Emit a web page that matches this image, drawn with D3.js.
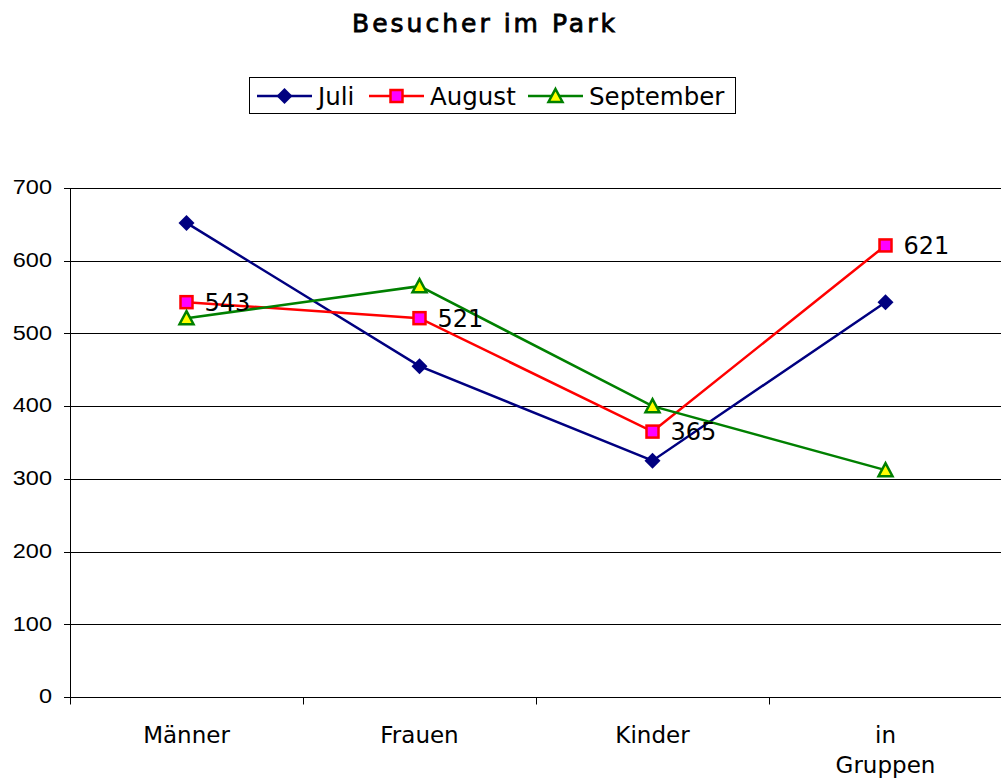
<!DOCTYPE html>
<html>
<head>
<meta charset="utf-8">
<script src="https://cdn.jsdelivr.net/npm/d3@7"></script>
<style>
  body { margin: 0; background: #fff; }
</style>
</head>
<body>
<script>
// chart data
var categories = ["Männer", "Frauen", "Kinder", "in Gruppen"];
var juli = [652, 455, 325, 543];
var august = [543, 521, 365, 621];
var september = [521, 565, 400, 312];
var yTicks = [0, 100, 200, 300, 400, 500, 600, 700];

var width = 1001;
var height = 782;
var plotLeft = 70, plotRight = 1002, plotTop = 188, plotBottom = 697;

var svg = d3.select("body").append("svg")
    .attr("width", width)
    .attr("height", height);

/*****************  Scales **********************/

var x = d3.scaleBand().domain(categories).range([plotLeft, plotRight]);
var y = d3.scaleLinear().domain([0, 700]).range([plotBottom, plotTop]);

/*****************  Title **********************/

svg.append("text")
    .attr("x", 485)
    .attr("y", 32)
    .attr("text-anchor", "middle")
    .style("font-family", "DejaVu Sans")
    .style("font-size", "25px")
    .style("letter-spacing", "3px")
    .style("stroke", "#000")
    .style("stroke-width", 0.8)
    .text("Besucher im Park");

/*****************  Grid + axes **********************/

svg.append("g").selectAll("line")
    .data(yTicks.slice(1))
    .enter()
    .append("line")
    .attr("x1", plotLeft)
    .attr("x2", width)
    .attr("y1", function (d) { return Math.round(y(d)) + 0.5; })
    .attr("y2", function (d) { return Math.round(y(d)) + 0.5; })
    .style("stroke", "#000")
    .style("stroke-width", 1);

// y axis line + ticks
svg.append("line")
    .attr("x1", plotLeft + 0.5).attr("x2", plotLeft + 0.5)
    .attr("y1", plotTop).attr("y2", plotBottom + 6)
    .style("stroke", "#000");
svg.append("g").selectAll("line")
    .data(yTicks)
    .enter()
    .append("line")
    .attr("x1", plotLeft - 6).attr("x2", plotLeft)
    .attr("y1", function (d) { return Math.round(y(d)) + 0.5; })
    .attr("y2", function (d) { return Math.round(y(d)) + 0.5; })
    .style("stroke", "#000");
svg.append("g").selectAll("text")
    .data(yTicks)
    .enter()
    .append("text")
    .attr("text-anchor", "end")
    .attr("dy", "0.3em")
    .attr("transform", function (d) { return "translate(52," + y(d) + ") scale(1.12,1)"; })
    .style("font-family", "Liberation Sans")
    .style("font-size", "21px")
    .text(function (d) { return d; });

var xAxis = svg.append("g")
    .attr("transform", "translate(0," + (Math.round(plotBottom) + 0.5) + ")");
xAxis.append("line")
    .attr("x1", plotLeft).attr("x2", width)
    .style("stroke", "#000");
xAxis.selectAll(".tk")
    .data(categories.concat([null]))
    .enter()
    .append("line")
    .attr("x1", function (d, i) { return Math.round(plotLeft + i * x.bandwidth()) + 0.5; })
    .attr("x2", function (d, i) { return Math.round(plotLeft + i * x.bandwidth()) + 0.5; })
    .attr("y1", 0)
    .attr("y2", 7)
    .style("stroke", "#000");

var catLabels = xAxis.selectAll(".cat")
    .data(categories)
    .enter()
    .append("text")
    .attr("text-anchor", "middle")
    .attr("x", function (d) { return x(d) + x.bandwidth() / 2; })
    .attr("y", 45)
    .style("font-family", "DejaVu Sans")
    .style("font-size", "23px");
catLabels.each(function (d) {
    var words = d.split(" ");
    var t = d3.select(this);
    words.forEach(function (w, i) {
        t.append("tspan")
            .attr("x", x(d) + x.bandwidth() / 2)
            .attr("dy", i == 0 ? 0 : 30)
            .text(w);
    });
});

/*****************  Series **********************/

var series = [
    { name: "Juli", values: juli, color: "#000080", marker: "diamond" },
    { name: "August", values: august, color: "#ff0000", marker: "square" },
    { name: "September", values: september, color: "#008000", marker: "triangle" }
];

function drawMarker(g, type, cx, cy) {
    if (type == "diamond") {
        g.append("path")
            .attr("d", "M" + cx + "," + (cy - 8) + "L" + (cx + 8) + "," + cy + "L" + cx + "," + (cy + 8) + "L" + (cx - 8) + "," + cy + "Z")
            .style("fill", "#000080");
    } else if (type == "square") {
        g.append("rect")
            .attr("x", cx - 6).attr("y", cy - 6)
            .attr("width", 12).attr("height", 12)
            .style("fill", "#ff00ff")
            .style("stroke", "#ff0000")
            .style("stroke-width", 2.5);
    } else {
        g.append("path")
            .attr("d", "M" + cx + "," + (cy - 7) + "L" + (cx + 7) + "," + (cy + 6) + "L" + (cx - 7) + "," + (cy + 6) + "Z")
            .style("fill", "#ffff00")
            .style("stroke", "#008000")
            .style("stroke-width", 2.5);
    }
}

var line = d3.line()
    .x(function (d, i) { return x(categories[i]) + x.bandwidth() / 2; })
    .y(function (d) { return y(d); });

series.forEach(function (s) {
    var g = svg.append("g");
    g.append("path")
        .datum(s.values)
        .attr("d", line)
        .style("fill", "none")
        .style("stroke", s.color)
        .style("stroke-width", 2.5);
    s.values.forEach(function (v, i) {
        drawMarker(g, s.marker, x(categories[i]) + x.bandwidth() / 2, y(v));
    });
});

// data labels for August
svg.append("g").selectAll("text")
    .data(august)
    .enter()
    .append("text")
    .attr("x", function (d, i) { return x(categories[i]) + x.bandwidth() / 2 + 18; })
    .attr("y", function (d) { return y(d); })
    .attr("dy", "0.36em")
    .style("font-family", "DejaVu Sans")
    .style("font-size", "24px")
    .text(function (d) { return d; });

/*****************  Legend **********************/

var legend = svg.append("g");
legend.append("rect")
    .attr("x", 249.5).attr("y", 77.5)
    .attr("width", 486).attr("height", 36)
    .style("fill", "#fff")
    .style("stroke", "#000");

var legendX = [257, 369, 528];
series.forEach(function (s, i) {
    var lx = legendX[i];
    legend.append("line")
        .attr("x1", lx).attr("x2", lx + 55)
        .attr("y1", 96).attr("y2", 96)
        .style("stroke", s.color)
        .style("stroke-width", 2.5);
    drawMarker(legend, s.marker, lx + 27.5, 96);
    legend.append("text")
        .attr("x", lx + 61)
        .attr("y", 96)
        .attr("dy", "0.36em")
        .style("font-family", "DejaVu Sans")
        .style("font-size", "24.5px")
        .text(s.name);
});
</script>
</body>
</html>
